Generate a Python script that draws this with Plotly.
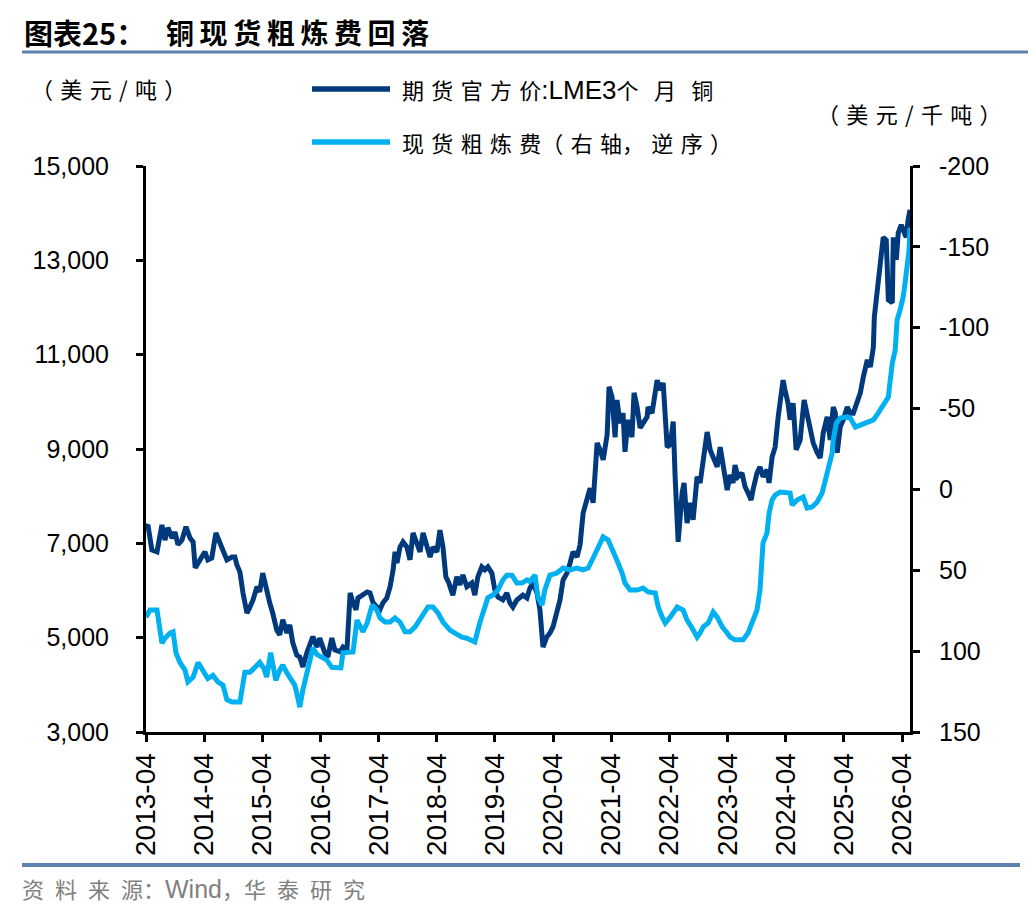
import plotly.graph_objects as go

# 期货官方价:LME3个月铜 (美元/吨)
copper_dates = [
    "2013-04-01", "2013-04-13", "2013-05-08", "2013-06-09", "2013-07-10", "2013-07-29",
    "2013-08-17", "2013-09-12", "2013-09-30", "2013-10-19", "2013-11-13", "2013-12-08",
    "2014-01-03", "2014-01-22", "2014-02-04", "2014-02-22", "2014-03-17", "2014-04-06",
    "2014-04-24", "2014-05-19", "2014-06-14", "2014-07-09", "2014-07-28", "2014-08-22",
    "2014-09-23", "2014-10-11", "2014-10-24", "2014-11-12", "2014-12-01", "2014-12-26",
    "2015-01-14", "2015-02-02", "2015-02-27", "2015-03-16", "2015-04-04", "2015-04-23",
    "2015-05-18", "2015-06-06", "2015-07-01", "2015-07-20", "2015-08-08", "2015-09-03",
    "2015-09-21", "2015-10-10", "2015-11-04", "2015-11-23", "2015-12-12", "2016-01-06",
    "2016-01-25", "2016-02-13", "2016-03-09", "2016-03-27", "2016-04-28", "2016-05-17",
    "2016-06-11", "2016-06-30", "2016-08-01", "2016-08-20", "2016-09-14", "2016-10-04",
    "2016-10-22", "2016-11-10", "2016-11-22", "2016-12-24", "2017-01-19", "2017-02-06",
    "2017-02-25", "2017-03-21", "2017-04-09", "2017-04-28", "2017-05-22", "2017-06-12",
    "2017-07-01", "2017-07-13", "2017-07-25", "2017-08-13", "2017-09-01", "2017-09-26",
    "2017-10-15", "2017-11-03", "2017-11-28", "2017-12-17", "2018-01-05", "2018-01-30",
    "2018-02-18", "2018-03-08", "2018-04-02", "2018-04-21", "2018-05-10", "2018-05-28",
    "2018-06-16", "2018-07-11", "2018-08-05", "2018-08-24", "2018-09-12", "2018-10-07",
    "2018-11-07", "2018-11-26", "2018-12-15", "2019-01-09", "2019-01-28", "2019-02-16",
    "2019-03-13", "2019-04-01", "2019-04-20", "2019-05-21", "2019-06-15", "2019-07-04",
    "2019-07-23", "2019-08-17", "2019-09-05", "2019-09-24", "2019-10-19", "2019-11-07",
    "2019-11-26", "2019-12-21", "2020-01-09", "2020-01-28", "2020-02-22", "2020-03-12",
    "2020-03-31", "2020-04-25", "2020-05-14", "2020-06-02", "2020-06-27", "2020-07-16",
    "2020-08-04", "2020-08-29", "2020-09-17", "2020-10-06", "2020-10-31", "2020-11-19",
    "2020-12-08", "2021-01-02", "2021-01-21", "2021-02-09", "2021-03-06", "2021-03-18",
    "2021-04-06", "2021-04-25", "2021-05-07", "2021-05-26", "2021-06-14", "2021-06-26",
    "2021-07-15", "2021-08-09", "2021-08-22", "2021-09-10", "2021-09-29", "2021-10-18",
    "2021-11-12", "2021-11-18", "2021-12-13", "2022-01-14", "2022-02-02", "2022-02-21",
    "2022-03-18", "2022-04-06", "2022-04-25", "2022-05-07", "2022-05-26", "2022-06-20",
    "2022-07-02", "2022-07-21", "2022-08-09", "2022-08-28", "2022-09-22", "2022-10-11",
    "2022-10-30", "2022-11-24", "2022-12-13", "2023-01-01", "2023-01-26", "2023-02-14",
    "2023-03-05", "2023-03-30", "2023-04-17", "2023-05-06", "2023-05-18", "2023-06-06",
    "2023-07-01", "2023-07-20", "2023-08-08", "2023-08-27", "2023-09-08", "2023-10-03",
    "2023-10-22", "2023-11-10", "2023-12-05", "2023-12-18", "2024-01-06", "2024-01-25",
    "2024-02-13", "2024-02-25", "2024-03-15", "2024-03-27", "2024-04-15", "2024-04-28",
    "2024-05-17", "2024-06-05", "2024-06-30", "2024-07-25", "2024-08-13", "2024-08-26",
    "2024-09-20", "2024-10-15", "2024-11-03", "2024-11-22", "2024-12-17", "2025-01-05",
    "2025-01-24", "2025-02-06", "2025-02-18", "2025-03-09", "2025-03-28", "2025-04-22",
    "2025-05-11", "2025-05-30", "2025-06-24", "2025-07-13", "2025-08-01", "2025-08-26",
    "2025-09-14", "2025-10-03", "2025-10-09", "2025-10-21", "2025-10-28", "2025-11-16",
    "2025-12-04", "2025-12-23", "2026-01-05", "2026-01-30", "2026-02-05", "2026-02-24",
    "2026-03-08", "2026-03-27", "2026-04-08", "2026-04-27", "2026-05-09", "2026-05-21",
]
copper_price = [
    7350, 7390, 6860, 6820, 7390, 7070,
    7330, 7110, 7240, 6970, 7070, 7350,
    7110, 7030, 6480, 6580, 6690, 6820,
    6650, 6690, 7220, 7030, 6900, 6650,
    6710, 6710, 6540, 6390, 5950, 5520,
    5650, 5800, 6080, 5970, 6370, 6050,
    5740, 5520, 5160, 5060, 5380, 5100,
    5270, 4890, 4630, 4590, 4380, 4680,
    4890, 5020, 4800, 4990, 4680, 4590,
    4990, 4740, 4700, 4800, 4740, 5950,
    5740, 5590, 5840, 5900, 5970, 5950,
    5740, 5650, 5590, 5740, 5840, 6080,
    6440, 6820, 6580, 6920, 7030, 6920,
    6650, 7220, 7030, 6820, 7220, 6920,
    6710, 6920, 6820, 7280, 6920, 6290,
    6160, 5900, 6290, 6120, 6330, 6080,
    6160, 5900, 6290, 6500, 6440, 6500,
    6370, 6010, 5860, 5800, 5950, 5740,
    5650, 5800, 5840, 5900, 5840, 6050,
    6160, 5950, 5590, 4800, 5020, 5100,
    5230, 5520, 5800, 6220, 6370, 6580,
    6820, 6710, 6970, 7640, 7960, 8170,
    7860, 9130, 8980, 8770, 9300, 10320,
    10100, 9250, 10040, 9550, 9760, 8940,
    9620, 9250, 10190, 9890, 9450, 9550,
    9680, 9890, 9760, 10460, 10250, 10400,
    9040, 9090, 9580, 8410, 7030, 8070,
    8280, 7430, 7860, 7500, 8410, 8280,
    8830, 9360, 8980, 8810, 8620, 9040,
    8700, 8130, 8450, 8280, 8660, 8410,
    8490, 8200, 8070, 7920, 8130, 8490,
    8620, 8410, 8560, 8280, 8830, 9040,
    9680, 10040, 10460, 10250, 9970, 9620,
    9970, 8980, 9190, 10040, 9760, 9470,
    9130, 8920, 8810, 9340, 9680, 9190,
    9890, 9760, 8920, 9470, 9620, 9890,
    9760, 9760, 10040, 10190, 10530, 10890,
    10740, 11160, 11800, 12160, 12580, 13010,
    13490, 13430, 12160, 12100, 13490, 13010,
    13580, 13750, 13640, 13490, 13860, 14070,
]

# 现货粗炼费 (美元/千吨, 右轴逆序)
tc_dates = [
    "2013-04-01", "2013-04-26", "2013-06-09", "2013-07-10", "2013-07-29", "2013-08-30",
    "2013-09-18", "2013-10-06", "2013-10-31", "2013-12-02", "2013-12-20", "2014-01-22",
    "2014-02-22", "2014-03-26", "2014-04-24", "2014-05-26", "2014-06-26", "2014-07-28",
    "2014-08-22", "2014-09-23", "2014-11-12", "2014-12-13", "2015-01-14", "2015-02-15",
    "2015-03-16", "2015-04-10", "2015-04-29", "2015-05-24", "2015-06-06", "2015-06-25",
    "2015-07-20", "2015-08-08", "2015-09-03", "2015-10-04", "2015-10-22", "2015-11-04",
    "2015-11-23", "2015-12-12", "2016-01-06", "2016-01-25", "2016-02-13", "2016-03-09",
    "2016-04-09", "2016-05-11", "2016-06-11", "2016-07-12", "2016-08-07", "2016-08-20",
    "2016-09-21", "2016-10-22", "2016-11-16", "2016-12-05", "2016-12-24", "2017-01-19",
    "2017-02-19", "2017-03-21", "2017-04-09", "2017-05-11", "2017-06-12", "2017-07-13",
    "2017-08-13", "2017-09-14", "2017-10-15", "2017-11-16", "2017-12-30", "2018-02-05",
    "2018-03-08", "2018-04-09", "2018-05-10", "2018-06-23", "2018-07-24", "2018-09-06",
    "2018-10-07", "2018-11-07", "2018-11-26", "2018-12-27", "2019-01-28", "2019-02-16",
    "2019-03-19", "2019-04-20", "2019-05-21", "2019-06-15", "2019-07-17", "2019-08-17",
    "2019-09-18", "2019-10-19", "2019-11-07", "2019-12-09", "2019-12-27", "2020-01-22",
    "2020-02-09", "2020-03-12", "2020-04-25", "2020-06-02", "2020-07-16", "2020-08-29",
    "2020-10-06", "2020-11-07", "2020-12-08", "2021-01-09", "2021-02-09", "2021-03-12",
    "2021-04-12", "2021-05-14", "2021-06-08", "2021-06-26", "2021-07-28", "2021-09-10",
    "2021-10-18", "2021-11-18", "2022-01-02", "2022-01-21", "2022-02-15", "2022-03-06",
    "2022-04-06", "2022-05-20", "2022-06-26", "2022-07-21", "2022-08-21", "2022-09-22",
    "2022-10-11", "2022-10-30", "2022-12-01", "2023-01-01", "2023-01-26", "2023-02-27",
    "2023-03-30", "2023-04-17", "2023-05-18", "2023-07-08", "2023-08-08", "2023-09-08",
    "2023-10-03", "2023-10-22", "2023-11-04", "2023-11-10", "2023-12-05", "2023-12-18",
    "2024-01-06", "2024-01-25", "2024-02-25", "2024-03-27", "2024-04-28", "2024-05-11",
    "2024-06-11", "2024-07-19", "2024-08-13", "2024-09-13", "2024-10-15", "2024-11-15",
    "2024-12-04", "2024-12-23", "2025-01-17", "2025-01-24", "2025-02-12", "2025-03-09",
    "2025-04-10", "2025-05-11", "2025-06-12", "2025-07-13", "2025-08-26", "2025-10-03",
    "2025-11-03", "2025-12-04", "2026-01-05", "2026-01-17", "2026-01-30", "2026-02-17",
    "2026-03-01", "2026-03-20", "2026-04-08", "2026-04-20", "2026-05-02", "2026-05-15",
    "2026-05-21",
]
tc_spot = [
    79, 74.6, 74.6, 95, 92, 88.8,
    88, 101, 107, 111.7, 119, 116,
    107, 113, 117, 115, 119, 121,
    130, 131.5, 131.5, 113, 113, 110,
    107, 110.4, 116, 101, 110, 118,
    111.7, 108.6, 113.5, 118, 121, 126,
    134.6, 124, 113.5, 105.5, 98, 102,
    103.6, 105.5, 110, 110.4, 110.4, 101,
    100.5, 100.5, 80.8, 83.8, 88, 82.6,
    71.5, 74.6, 79.5, 82, 82, 79.5,
    82, 88, 88, 85, 79, 72.7,
    72.7, 76.4, 82, 87, 88.8, 91.3,
    92, 93, 94.3, 82.6, 72.7, 67,
    65.3, 62.2, 56, 53, 53, 57.9,
    57.9, 56, 57, 53, 66.5, 71.5,
    62, 53, 51.7, 48.6, 49.8, 48.6,
    49.8, 48.6, 42.4, 35.6, 29.4, 31.3,
    37.5, 45.5, 51.7, 57.9, 62.2, 62.2,
    61, 63.4, 64, 72.7, 79, 82.6,
    79, 72.7, 74.6, 80.8, 85.7, 91.3,
    88.8, 85, 82.6, 75.8, 79, 85,
    88.8, 91.3, 93, 93, 88.8, 80.8,
    74.6, 62.2, 43.6, 33, 27, 14.6,
    6.5, 3.5, 1.6, 2.2, 2.2, 9.6,
    6.5, 4.7, 11.5, 10.9, 7.8, 2.2,
    -5.8, -13.9, -22.5, -30.6, -41, -44.2,
    -44.8, -44.2, -38.6, -39.8, -41.7, -43,
    -47.3, -52.2, -57.1, -67.7, -78.2, -86.2,
    -104.8, -111, -119, -127.6, -137.5, -148,
    -161.7,
]

tick_labels = [f"{year}-04" for year in range(2013, 2027)]
left_ticks = [3000, 5000, 7000, 9000, 11000, 13000, 15000]
right_ticks = [-200, -150, -100, -50, 0, 50, 100, 150]

DARK_BLUE = "#003A7D"
LIGHT_BLUE = "#00B0F0"
RULE_BLUE = "#5F82AE"
CJK = "Noto Sans CJK SC"
LATIN = "Liberation Sans"
SP = "\u2004"  # three-per-em space, for the wide CJK letter spacing
EN = "\u2002"
WIDE = "\u2002\u2009"

# the page body adds an 8px margin, so the figure is drawn 8px smaller
OFFSET = 8
W, H = 1036 - OFFSET, 916 - OFFSET
PLOT_L, PLOT_R, PLOT_T, PLOT_B = 146, 910, 166, 732


def px(x, y):
    """Pixel position on the screenshot -> paper coordinates."""
    return (x - PLOT_L) / (PLOT_R - PLOT_L), (PLOT_B - y) / (PLOT_B - PLOT_T)


fig = go.Figure()
fig.add_trace(go.Scatter(
    x=copper_dates, y=copper_price, mode="lines", name="期货官方价:LME3个月铜",
    line=dict(color=DARK_BLUE, width=5), yaxis="y",
))
fig.add_trace(go.Scatter(
    x=tc_dates, y=tc_spot, mode="lines", name="现货粗炼费（右轴，逆序）",
    line=dict(color=LIGHT_BLUE, width=5), yaxis="y2",
))

axis_common = dict(
    showline=True, linecolor="black", linewidth=3, showgrid=False, zeroline=False,
    ticks="outside", ticklen=7, tickwidth=3, tickcolor="black",
)

fig.update_layout(
    width=W, height=H,
    margin=dict(l=PLOT_L - OFFSET, r=W - (PLOT_R - OFFSET), t=PLOT_T - OFFSET,
                b=H - (PLOT_B - OFFSET), pad=0),
    paper_bgcolor="white", plot_bgcolor="white",
    showlegend=False,
    xaxis=dict(
        type="date", range=["2013-04-01", "2026-05-21"],
        tickvals=[f"{label}-01" for label in tick_labels], ticktext=tick_labels,
        tickangle=-90, tickfont=dict(family=LATIN, size=28, color="black"),
        **axis_common,
    ),
    yaxis=dict(
        range=[3000, 15000], tickvals=left_ticks,
        ticktext=[f"{v:,}" for v in left_ticks], ticklabelstandoff=22,
        tickfont=dict(family=LATIN, size=25, color="black"), **axis_common,
    ),
    yaxis2=dict(
        range=[150, -200], overlaying="y", side="right", tickvals=right_ticks,
        ticktext=[str(v) for v in right_ticks], ticklabelstandoff=14,
        tickfont=dict(family=LATIN, size=25, color="black"), **axis_common,
    ),
)

shapes = []
annotations = []


def hline(x0, x1, y, color, width):
    a, b = px(x0, y)
    c, _ = px(x1, y)
    shapes.append(dict(type="line", xref="paper", yref="paper", x0=a, x1=c, y0=b, y1=b,
                       line=dict(color=color, width=width)))


def label(text, x, y, size, color="black", anchor="left", family=CJK):
    lx, ly = px(x, y)
    annotations.append(dict(text=text, x=lx, y=ly, xanchor=anchor, yanchor="middle",
                            font=dict(family=family, size=size, color=color)))


def latin(text, size):
    return f"<span style='font-family:{LATIN};font-size:{size}px'>{text}</span>"


# title and its rule
label("<b>图表25：</b>", 22, 32, 29)
label("<b>" + "\u2009".join("铜现货粗炼费回落") + "</b>", 164, 32, 28)
hline(22, 1036, 52, RULE_BLUE, 3)

# bottom rule and source
hline(22, 1020, 865, RULE_BLUE, 4)
label(f"资{EN}料{EN}来{EN}源：" + latin("Wind", 25) + f"，华{EN}泰{EN}研{EN}究",
      20, 888, 22, color="#808080")

# axis units
label(f"（{SP}美{SP}元{SP}/{SP}吨{SP}）", 29, 88, 22)
label(f"（{SP}美{SP}元{SP}/{SP}千{SP}吨{SP}）", 1004, 113, 22, anchor="right")

# legend drawn by hand
legend_rows = [
    (89, DARK_BLUE, f"期{SP}货{SP}官{SP}方{SP}价" + latin(":LME3", 26) + f"个{WIDE}月{WIDE}铜"),
    (142, LIGHT_BLUE, SP.join("现货粗炼费") + f"（{SP}右{SP}轴，{SP}逆{SP}序{SP}）"),
]
for row_y, color, text in legend_rows:
    hline(312, 390, row_y, color, 5.5)
    label(text, 400, row_y, 22)

for a in annotations:
    a.update(xref="paper", yref="paper", showarrow=False)

fig.update_layout(shapes=shapes, annotations=annotations)

fig.write_html("out.html")
